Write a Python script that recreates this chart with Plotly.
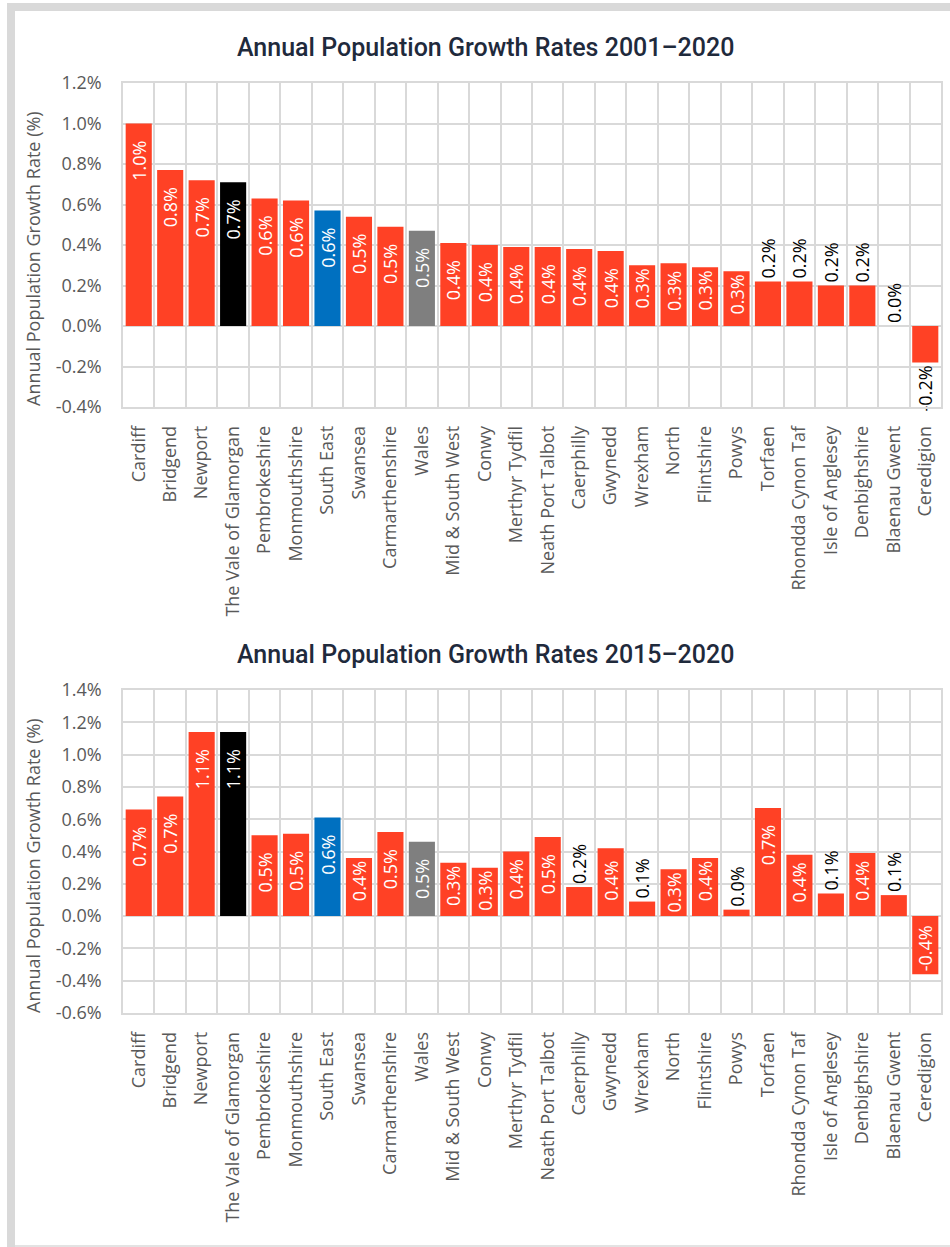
import plotly.graph_objects as go

W, H = 950, 1247

regions = [
    "Cardiff", "Bridgend", "Newport", "The Vale of Glamorgan", "Pembrokeshire",
    "Monmouthshire", "South East", "Swansea", "Carmarthenshire", "Wales",
    "Mid & South West", "Conwy", "Merthyr Tydfil", "Neath Port Talbot", "Caerphilly",
    "Gwynedd", "Wrexham", "North", "Flintshire", "Powys", "Torfaen",
    "Rhondda Cynon Taf", "Isle of Anglesey", "Denbighshire", "Blaenau Gwent", "Ceredigion",
]

# Annual population growth rate (%), 2001-2020
growth_2001_2020 = [
    1.00, 0.77, 0.72, 0.71, 0.63, 0.62, 0.57, 0.54, 0.49, 0.47,
    0.41, 0.40, 0.39, 0.39, 0.38, 0.37, 0.30, 0.31, 0.29, 0.27,
    0.22, 0.22, 0.20, 0.20, 0.00, -0.18,
]

# Annual population growth rate (%), 2015-2020
growth_2015_2020 = [
    0.66, 0.74, 1.14, 1.14, 0.50, 0.51, 0.61, 0.36, 0.52, 0.46,
    0.33, 0.30, 0.40, 0.49, 0.18, 0.42, 0.09, 0.29, 0.36, 0.04,
    0.67, 0.38, 0.14, 0.39, 0.13, -0.36,
]

ticks_top = [-0.4, -0.2, 0.0, 0.2, 0.4, 0.6, 0.8, 1.0, 1.2]
ticks_bottom = [-0.6, -0.4, -0.2, 0.0, 0.2, 0.4, 0.6, 0.8, 1.0, 1.2, 1.4]

titles = ["Annual Population Growth Rates 2001\u20132020",
          "Annual Population Growth Rates 2015\u20132020"]
y_title = "Annual Population Growth Rate (%)"

RED = "#FF4125"
SPECIAL = {"The Vale of Glamorgan": "#000000", "South East": "#0070C0", "Wales": "#7F7F7F"}
GRID = "#D9D9D9"
TICK = "#595959"
FONT = "Open Sans"
FS = 18


def px(y):
    """Pixel row -> paper fraction."""
    return 1 - y / H


def bar_labels(values, px_per_unit):
    texts, positions, colors = [], [], []
    for v in values:
        s = f"{v:.1f}%"
        label_px = FS * (2.253 + (0.322 if v < 0 else 0.0))
        bar_px = abs(v) * px_per_unit
        if bar_px >= label_px + 6:
            gap = min(max(bar_px - label_px - 15, 0.0), 15.0)
            pad = "\u00a0" * int(round(max(gap - 3, 0.0) / 4.7))
            texts.append(pad + s if v < 0 else s + pad)
            positions.append("inside")
            colors.append("#FFFFFF")
        else:
            texts.append(s)
            positions.append("outside")
            colors.append("#000000")
    return texts, positions, colors


panels = [
    dict(values=growth_2001_2020, ticks=ticks_top, rng=[-0.4, 1.2],
         ydom=[px(407), px(83)], title_y=47, axis_title_y=259),
    dict(values=growth_2015_2020, ticks=ticks_bottom, rng=[-0.6, 1.4],
         ydom=[px(1013), px(690)], title_y=654, axis_title_y=866),
]

fig = go.Figure()
annotations = []
xdom = [123 / W, 941 / W]

for i, p in enumerate(panels):
    suffix = "" if i == 0 else str(i + 1)
    ppu = (p["ydom"][1] - p["ydom"][0]) * H / (p["rng"][1] - p["rng"][0])
    texts, positions, tcolors = bar_labels(p["values"], ppu)
    colors = [SPECIAL.get(r, RED) for r in regions]

    fig.add_trace(go.Bar(
        x=regions, y=p["values"],
        marker=dict(color=colors, line=dict(width=0)),
        text=texts, textposition=positions, textangle=-90,
        insidetextanchor="end", constraintext="none", cliponaxis=False,
        textfont=dict(family=FONT, size=FS, color=tcolors),
        hoverinfo="x+y", showlegend=False,
        xaxis="x" + suffix, yaxis="y" + suffix,
    ))

    axis_common = dict(showgrid=True, gridcolor=GRID, gridwidth=1.5,
                       showline=True, mirror=True, linecolor=GRID, linewidth=1.5,
                       tickfont=dict(family=FONT, size=FS, color=TICK), ticks="",
                       automargin=False)
    fig.update_layout(**{
        "xaxis" + suffix: dict(domain=xdom, anchor="y" + suffix, type="category",
                               tickson="boundaries", tickangle=-90,
                               ticklabelstandoff=10, **axis_common),
        "yaxis" + suffix: dict(domain=p["ydom"], anchor="x" + suffix, range=p["rng"],
                               tickvals=p["ticks"],
                               ticktext=[f"{t:.1f}%" for t in p["ticks"]],
                               zeroline=False, ticklabelstandoff=16, **axis_common),
    })

    annotations.append(dict(
        text=titles[i], x=485 / W, y=px(p["title_y"]), xref="paper", yref="paper",
        xanchor="center", yanchor="middle", showarrow=False,
        font=dict(family="Roboto", size=25, weight=500, color="#1F2A3C"),
    ))
    annotations.append(dict(
        text=y_title, x=33 / W, y=px(p["axis_title_y"]), xref="paper", yref="paper",
        xanchor="center", yanchor="middle", textangle=-90, showarrow=False,
        font=dict(family=FONT, size=FS, color=TICK),
    ))

frame = "#D9D9D9"
shapes = [
    dict(type="rect", xref="paper", yref="paper", x0=7 / W, x1=15 / W, y0=0, y1=px(3),
         fillcolor=frame, line=dict(width=0)),
    dict(type="rect", xref="paper", yref="paper", x0=7 / W, x1=1, y0=px(11), y1=px(3),
         fillcolor=frame, line=dict(width=0)),
    dict(type="line", xref="paper", yref="paper", x0=15 / W, x1=1, y0=px(1246), y1=px(1246),
         line=dict(color="#E3E3E3", width=2)),
]

fig.update_layout(
    width=W, height=H, margin=dict(l=0, r=0, t=0, b=0, autoexpand=False),
    paper_bgcolor="#FFFFFF", plot_bgcolor="#FFFFFF",
    bargap=0.17, annotations=annotations, shapes=shapes,
    uniformtext=dict(minsize=FS, mode="show"),
    font=dict(family=FONT),
)

# Drop the default body margin so the 950x1247 figure fills the window.
fig.write_html(
    "out.html",
    post_script="document.body.style.margin='0';document.body.style.overflow='hidden';",
)
